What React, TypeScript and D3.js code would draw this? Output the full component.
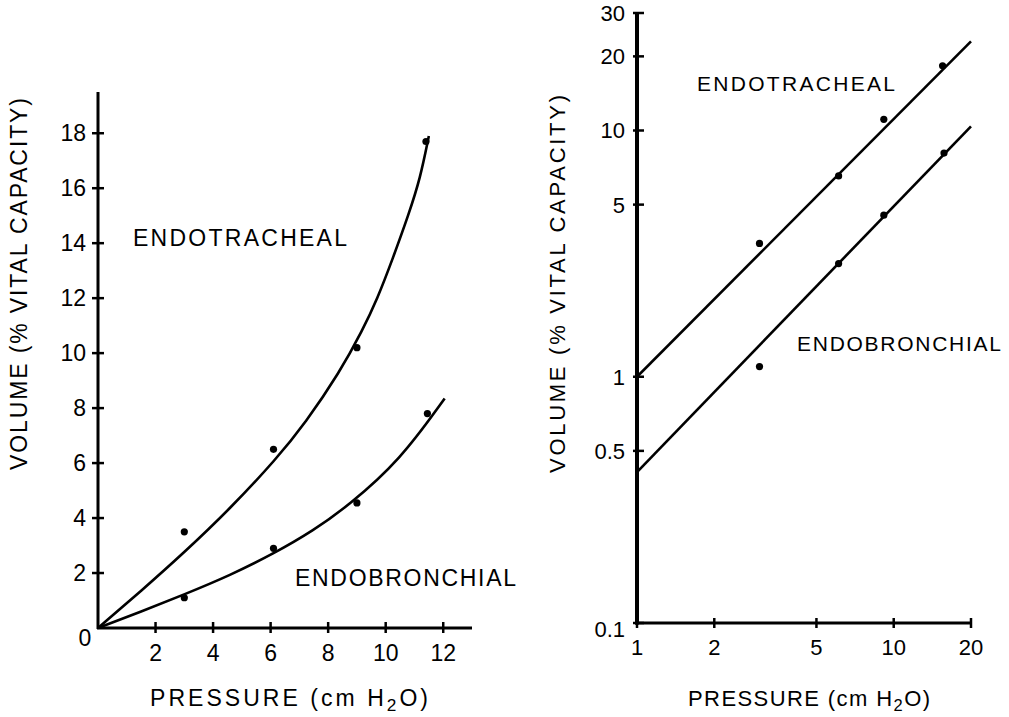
import React, { useEffect, useRef } from 'react';
import * as d3 from 'd3';

// ---- left panel (linear) ----
const leftXTicks = [2, 4, 6, 8, 10, 12];
const leftYTicks = [2, 4, 6, 8, 10, 12, 14, 16, 18];

const trachealP = [3, 6.1, 9, 11.4];
const trachealV = [3.5, 6.5, 10.2, 17.7];
const bronchialP = [3, 6.1, 9, 11.45];
const bronchialV = [1.1, 2.9, 4.55, 7.8];

// hand-drawn fitted curves
const trachealFitP = [0, 1.5, 3, 4.6, 6.2, 7.2, 8.4, 9.2, 9.7, 10.25, 10.8, 11.2, 11.5];
const trachealFitV = [0, 1.35, 2.75, 4.35, 6.15, 7.45, 9.3, 10.85, 11.95, 13.45, 15.05, 16.35, 17.9];
const bronchialFitP = [0, 1.5, 3, 4.6, 6.1, 7.5, 8.7, 10.5, 12.05];
const bronchialFitV = [0, 0.6, 1.22, 1.92, 2.7, 3.55, 4.45, 6.1, 8.35];

// ---- right panel (log-log) ----
const rightXTicks = [1, 2, 5, 10, 20];
const rightYTicks = [0.1, 0.5, 1, 5, 10, 20, 30];
const rightYLabels = ['0.1', '0.5', '1', '5', '10', '20', '30'];

const trachealLogP = [3, 6.1, 9.15, 15.5];
const trachealLogV = [3.48, 6.54, 11.1, 18.3];
const bronchialLogP = [3, 6.1, 9.15, 15.7];
const bronchialLogV = [1.1, 2.88, 4.53, 8.1];

const trachealLineP = [1, 20];
const trachealLineV = [1.0, 23];
const bronchialLineP = [1, 20];
const bronchialLineV = [0.41, 10.4];

const FONT = '"Liberation Sans", Arial, sans-serif';

const App = () => {
  const ref = useRef<SVGSVGElement>(null);

  useEffect(() => {
    const svg = d3.select(ref.current);
    svg.selectAll('*').remove();

    const text = (x: number, y: number, s: string, size: number, anchor = 'start', len?: number) => {
      const t = svg
        .append('text')
        .attr('x', x)
        .attr('y', y)
        .attr('font-family', FONT)
        .attr('font-size', size)
        .attr('text-anchor', anchor)
        .attr('fill', '#000')
        .text(s);
      if (len) t.attr('textLength', len).attr('lengthAdjust', 'spacing');
      return t;
    };

    const pressureTitle = (x: number, y: number, size: number, len: number) => {
      const t = svg
        .append('text')
        .attr('x', x)
        .attr('y', y)
        .attr('font-family', FONT)
        .attr('font-size', size)
        .attr('textLength', len)
        .attr('lengthAdjust', 'spacing');
      t.append('tspan').text('PRESSURE  (cm  H');
      t.append('tspan').attr('dy', 5).attr('font-size', size * 0.75).text('2');
      t.append('tspan').attr('dy', -5).text('O)');
    };

    const volumeTitle = (cx: number, cy: number, size: number, len: number) => {
      svg
        .append('text')
        .attr('transform', `translate(${cx},${cy}) rotate(-90)`)
        .attr('font-family', FONT)
        .attr('font-size', size)
        .attr('text-anchor', 'middle')
        .attr('dy', '0.35em')
        .attr('textLength', len)
        .attr('lengthAdjust', 'spacing')
        .text('VOLUME  (% VITAL  CAPACITY)');
    };

    // ---------- left panel ----------
    const xL = d3.scaleLinear().domain([0, 13]).range([98, 472]);
    const yL = d3.scaleLinear().domain([0, 19.5]).range([628, 92]);

    svg.append('line')
      .attr('x1', xL(0) - 1).attr('x2', xL(13))
      .attr('y1', yL(0)).attr('y2', yL(0))
      .attr('stroke', '#000').attr('stroke-width', 3);
    svg.append('line')
      .attr('x1', xL(0)).attr('x2', xL(0))
      .attr('y1', yL(0) + 1).attr('y2', yL(19.5))
      .attr('stroke', '#000').attr('stroke-width', 3);

    leftXTicks.forEach((t) => {
      svg.append('line')
        .attr('x1', xL(t)).attr('x2', xL(t))
        .attr('y1', yL(0) - 6).attr('y2', yL(0) + 5)
        .attr('stroke', '#000').attr('stroke-width', 2.5);
      text(xL(t), yL(0) + 33, String(t), 23, 'middle');
    });
    leftYTicks.forEach((t) => {
      svg.append('line')
        .attr('x1', xL(0) - 6).attr('x2', xL(0) + 6)
        .attr('y1', yL(t)).attr('y2', yL(t))
        .attr('stroke', '#000').attr('stroke-width', 2.5);
      text(xL(0) - 12, yL(t) + 8, String(t), 23, 'end');
    });
    text(xL(0) - 13, yL(0) + 18, '0', 23, 'middle');

    // smoothed like a french-curve drawing
    const lineL = d3.line<[number, number]>()
      .x((d) => xL(d[0]))
      .y((d) => yL(d[1]))
      .curve(d3.curveBasis);

    [[trachealFitP, trachealFitV], [bronchialFitP, bronchialFitV]].forEach(([ps, vs]) => {
      svg.append('path')
        .datum(ps.map((p, i) => [p, vs[i]] as [number, number]))
        .attr('d', lineL)
        .attr('fill', 'none')
        .attr('stroke', '#000')
        .attr('stroke-width', 2.6);
    });

    [[trachealP, trachealV], [bronchialP, bronchialV]].forEach(([ps, vs]) => {
      svg.append('g')
        .selectAll('circle')
        .data(ps.map((p, i) => [p, vs[i]]))
        .enter()
        .append('circle')
        .attr('cx', (d) => xL(d[0]))
        .attr('cy', (d) => yL(d[1]))
        .attr('r', 3.6)
        .attr('fill', '#000');
    });

    text(133, 246, 'ENDOTRACHEAL', 23, 'start', 214);
    text(295, 586, 'ENDOBRONCHIAL', 23, 'start', 221);
    pressureTitle(150, 706, 23, 278);
    volumeTitle(19, 284, 23, 372);

    // ---------- right panel ----------
    const xR = d3.scaleLog().domain([1, 20]).range([637, 971]);
    const yR = d3.scaleLog().domain([0.1, 30]).range([623, 13]);

    svg.append('line')
      .attr('x1', xR(1) - 2).attr('x2', xR(20))
      .attr('y1', yR(0.1)).attr('y2', yR(0.1))
      .attr('stroke', '#000').attr('stroke-width', 3);
    svg.append('line')
      .attr('x1', xR(1)).attr('x2', xR(1))
      .attr('y1', yR(0.1) + 1.5).attr('y2', yR(30))
      .attr('stroke', '#000').attr('stroke-width', 4);

    rightXTicks.forEach((t) => {
      svg.append('line')
        .attr('x1', xR(t)).attr('x2', xR(t))
        .attr('y1', yR(0.1) - 5).attr('y2', yR(0.1) + 5)
        .attr('stroke', '#000').attr('stroke-width', 2.5);
      text(xR(t), yR(0.1) + 32, String(t), 22, 'middle');
    });
    rightYTicks.forEach((t, i) => {
      svg.append('line')
        .attr('x1', xR(1) - 4).attr('x2', xR(1) + 7)
        .attr('y1', yR(t)).attr('y2', yR(t))
        .attr('stroke', '#000').attr('stroke-width', 2.5);
      const dy = t === 0.1 ? 14 : 8;
      text(xR(1) - 12, yR(t) + dy, rightYLabels[i], 22, 'end');
    });

    const lineR = d3.line<[number, number]>()
      .x((d) => xR(d[0]))
      .y((d) => yR(d[1]));

    [[trachealLineP, trachealLineV], [bronchialLineP, bronchialLineV]].forEach(([ps, vs]) => {
      svg.append('path')
        .datum(ps.map((p, i) => [p, vs[i]] as [number, number]))
        .attr('d', lineR)
        .attr('fill', 'none')
        .attr('stroke', '#000')
        .attr('stroke-width', 2.6);
    });

    [[trachealLogP, trachealLogV], [bronchialLogP, bronchialLogV]].forEach(([ps, vs]) => {
      svg.append('g')
        .selectAll('circle')
        .data(ps.map((p, i) => [p, vs[i]]))
        .enter()
        .append('circle')
        .attr('cx', (d) => xR(d[0]))
        .attr('cy', (d) => yR(d[1]))
        .attr('r', 3.6)
        .attr('fill', '#000');
    });

    text(697, 91, 'ENDOTRACHEAL', 21, 'start', 198);
    text(797, 351, 'ENDOBRONCHIAL', 21, 'start', 204);
    pressureTitle(688, 706, 22, 242);
    volumeTitle(557, 284, 22, 378);
  }, []);

  return (
    <svg
      ref={ref}
      width={1009}
      height={717}
      style={{ position: 'absolute', left: 0, top: 0, background: '#fff' }}
    />
  );
};

export default App;
